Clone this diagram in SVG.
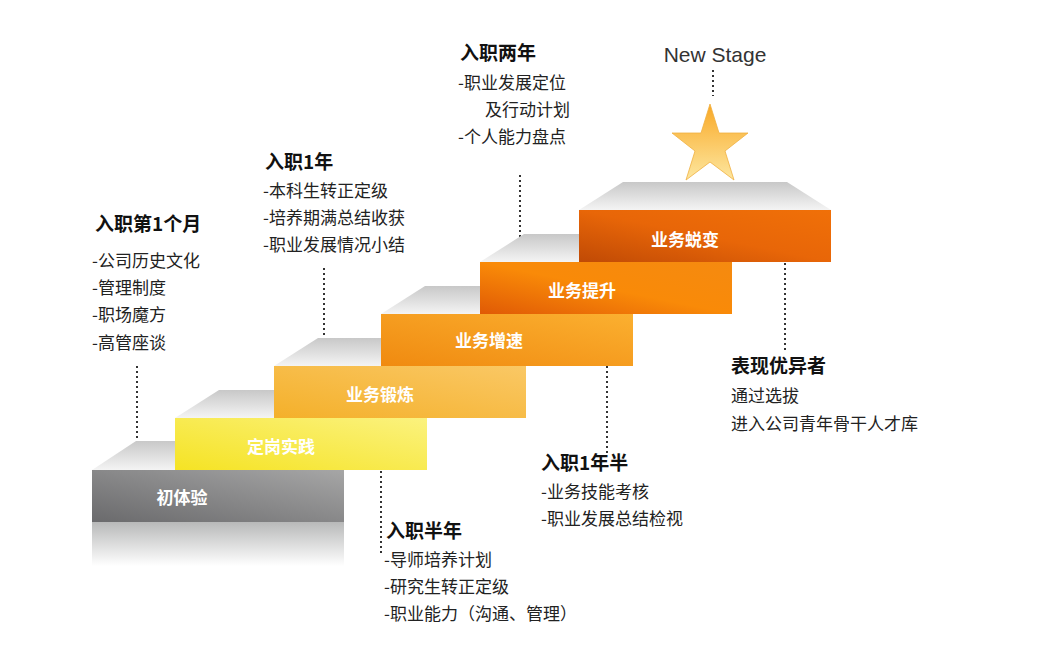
<svg xmlns="http://www.w3.org/2000/svg" width="1063" height="652" viewBox="0 0 1063 652">
<defs>
<linearGradient id="top" x1="0" y1="0" x2="0" y2="1"><stop offset="0" stop-color="#c8c8c8"/><stop offset="1" stop-color="#f4f4f4"/></linearGradient>
<linearGradient id="g1" x1="0" y1="1" x2="1" y2="0"><stop offset="0" stop-color="#6a6a6c"/><stop offset="1" stop-color="#a6a6a6"/></linearGradient>
<linearGradient id="refl" x1="0" y1="0" x2="0" y2="1"><stop offset="0" stop-color="#b8b9b9"/><stop offset="1" stop-color="#ffffff"/></linearGradient>
<linearGradient id="g2" x1="0" y1="1" x2="1" y2="0"><stop offset="0" stop-color="#f5e324"/><stop offset="1" stop-color="#fbf27e"/></linearGradient>
<linearGradient id="g3" x1="0" y1="1" x2="1" y2="0"><stop offset="0" stop-color="#f4b02a"/><stop offset="1" stop-color="#fac865"/></linearGradient>
<linearGradient id="g4" x1="0" y1="1" x2="1" y2="0"><stop offset="0" stop-color="#f08a10"/><stop offset="1" stop-color="#fbb030"/></linearGradient>
<linearGradient id="g5" x1="0" y1="1" x2="1" y2="0"><stop offset="0" stop-color="#e05a05"/><stop offset="0.5" stop-color="#f98a08"/><stop offset="1" stop-color="#f58a10"/></linearGradient>
<linearGradient id="g6" x1="0" y1="1" x2="1" y2="0"><stop offset="0" stop-color="#c04a05"/><stop offset="0.5" stop-color="#e86608"/><stop offset="1" stop-color="#f07008"/></linearGradient>
<linearGradient id="star" x1="0" y1="0" x2="0" y2="1"><stop offset="0" stop-color="#f9a825"/><stop offset="1" stop-color="#fde7a0"/></linearGradient>
</defs>
<style>
.lab{font-family:"Noto Sans CJK SC","Noto Sans",sans-serif;font-weight:bold;font-size:17px;fill:#fff;text-anchor:middle}
.h{font-family:"Noto Sans CJK SC",sans-serif;font-weight:bold;font-size:19px;fill:#111}
.t{font-family:"Noto Sans CJK SC",sans-serif;font-size:17px;fill:#222}
.dot{stroke:#333;stroke-width:2;stroke-dasharray:2 3;fill:none}
</style>
<g id="connectors">
<line class="dot" x1="713" y1="70" x2="713" y2="96"/>
<line class="dot" x1="137" y1="366" x2="137" y2="447"/>
<line class="dot" x1="324" y1="268" x2="324" y2="353"/>
<line class="dot" x1="520" y1="175" x2="520" y2="243"/>
<line class="dot" x1="381" y1="471" x2="381" y2="556"/>
<line class="dot" x1="607" y1="366" x2="607" y2="453"/>
<line class="dot" x1="785" y1="263" x2="785" y2="350"/>
</g>
<g id="step1">
<polygon points="92,470 136,441 300,441 344,470" fill="url(#top)"/>
<rect x="92" y="522" width="252" height="44" fill="url(#refl)"/>
<rect x="92" y="470" width="252" height="52" fill="url(#g1)"/>
<text class="lab" x="182" y="504">初体验</text>
</g>
<g id="step2">
<polygon points="175,418 219,390 383,390 427,418" fill="url(#top)"/>
<rect x="175" y="418" width="252" height="52" fill="url(#g2)"/>
<text class="lab" x="281" y="453">定岗实践</text>
</g>
<g id="step3">
<polygon points="274,366 318,338 482,338 526,366" fill="url(#top)"/>
<rect x="274" y="366" width="252" height="52" fill="url(#g3)"/>
<text class="lab" x="380" y="401">业务锻炼</text>
</g>
<g id="step4">
<polygon points="381,314 425,286 589,286 633,314" fill="url(#top)"/>
<rect x="381" y="314" width="252" height="52" fill="url(#g4)"/>
<text class="lab" x="489" y="347">业务增速</text>
</g>
<g id="step5">
<polygon points="480,262 524,234 688,234 732,262" fill="url(#top)"/>
<rect x="480" y="262" width="252" height="52" fill="url(#g5)"/>
<text class="lab" x="582" y="297">业务提升</text>
</g>
<g id="step6">
<polygon points="579,210 623,182 787,182 831,210" fill="url(#top)"/>
<rect x="579" y="210" width="252" height="52" fill="url(#g6)"/>
<text class="lab" x="685" y="246">业务蜕变</text>
</g>
<g id="star-node">
<polygon points="710,104 719,133 748,133 725,151 734,180 710,162 686,180 695,151 672,133 701,133" fill="url(#star)" stroke="#f0b040" stroke-width="0.8"/>
<text x="715" y="62" style="font-family:'Liberation Sans',sans-serif;font-size:21px;fill:#333;text-anchor:middle">New Stage</text>
</g>
<g id="note-month1">
<text class="h" x="95" y="231">入职第1个月</text>
<text class="t" x="92" y="267">-公司历史文化</text>
<text class="t" x="92" y="294">-管理制度</text>
<text class="t" x="92" y="321">-职场魔方</text>
<text class="t" x="92" y="349">-高管座谈</text>
</g>
<g id="note-year1">
<text class="h" x="265" y="169">入职1年</text>
<text class="t" x="263" y="197">-本科生转正定级</text>
<text class="t" x="263" y="224">-培养期满总结收获</text>
<text class="t" x="263" y="251">-职业发展情况小结</text>
</g>
<g id="note-year2">
<text class="h" x="460" y="60">入职两年</text>
<text class="t" x="458" y="89">-职业发展定位</text>
<text class="t" x="485" y="116">及行动计划</text>
<text class="t" x="458" y="143">-个人能力盘点</text>
</g>
<g id="note-half">
<text class="h" x="386" y="538">入职半年</text>
<text class="t" x="384" y="566">-导师培养计划</text>
<text class="t" x="384" y="593">-研究生转正定级</text>
<text class="t" x="384" y="620">-职业能力（沟通、管理）</text>
</g>
<g id="note-year15">
<text class="h" x="541" y="470">入职1年半</text>
<text class="t" x="541" y="498">-业务技能考核</text>
<text class="t" x="541" y="525">-职业发展总结检视</text>
</g>
<g id="note-excellent">
<text class="h" x="731" y="373">表现优异者</text>
<text class="t" x="731" y="402">通过选拔</text>
<text class="t" x="731" y="430">进入公司青年骨干人才库</text>
</g>
</svg>
